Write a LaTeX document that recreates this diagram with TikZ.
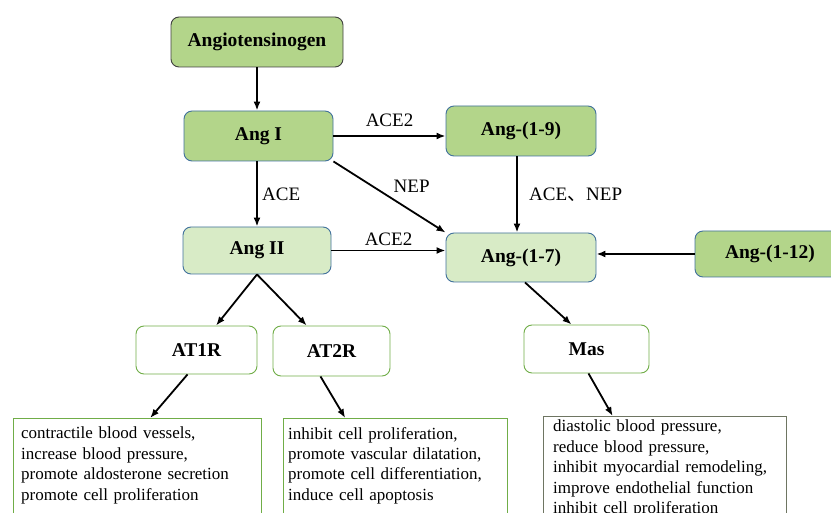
\documentclass[tikz,border=0pt]{standalone}
\usepackage{fontspec}
\setmainfont{Liberation Serif}
\newfontfamily\cjk{Noto Sans CJK SC}
\usetikzlibrary{arrows.meta}
\definecolor{darkleaf}{HTML}{B3D58A}
\definecolor{paleleaf}{HTML}{D8EBC6}
\definecolor{edgeblue}{HTML}{41719C}
\definecolor{edgegreen}{HTML}{70AD47}
\definecolor{edgegray}{HTML}{6E7562}
\tikzset{
  peptide/.style={draw=edgeblue, fill=darkleaf, rounded corners=8pt, line width=0.9pt,
    font=\fontsize{19.5}{23}\selectfont\bfseries, minimum width=150pt, minimum height=50pt},
  receptor/.style={draw=edgegreen, fill=white, rounded corners=8pt, line width=0.9pt,
    font=\fontsize{19.5}{23}\selectfont\bfseries, minimum height=48pt},
  efftext/.style={anchor=north west, align=left, inner ysep=9pt,
    font=\fontsize{17}{20.4}\selectfont},
  effframe/.style={draw=edgegreen, line width=0.9pt},
  arr/.style={-{Latex[length=9pt,width=7pt]}, line width=1.8pt},
  enzyme/.style={font=\fontsize{19}{22}\selectfont}
}
\begin{document}
\begin{tikzpicture}[x=1pt,y=-1pt]
\useasboundingbox (0,0) rectangle (831,513);
\clip (0,0) rectangle (831,513);

% precursor and peptides
\node[peptide, draw=black!75, minimum width=172pt] (angio) at (257,42) {Angiotensinogen};
\node[peptide, minimum width=149pt] (angI) at (258.5,136) {Ang I};
\node[peptide] (ang19) at (521,131) {Ang-(1-9)};
\node[peptide, minimum height=46pt] (ang112) at (770,254) {Ang-(1-12)};
\node[peptide, fill=paleleaf, minimum width=148pt, minimum height=47pt] (angII) at (257,250.5) {Ang II};
\node[peptide, fill=paleleaf, minimum height=49pt] (ang17) at (521,257.5) {Ang-(1-7)};

% receptors
\node[receptor, minimum width=121pt] (at1r) at (196.5,350) {AT1R};
\node[receptor, minimum width=117pt, minimum height=50pt] (at2r) at (331.5,351) {AT2R};
\node[receptor, minimum width=125pt] (mas) at (586.5,349) {Mas};

% effects
\node[efftext, inner xsep=8pt, text width=232pt] (eff1) at (13,418)
  {contractile blood vessels,\\ increase blood pressure,\\ promote aldosterone secretion\\ promote cell proliferation};
\draw[effframe] (eff1.north west) rectangle ([yshift=-120pt]eff1.north east);
\node[efftext, inner xsep=5pt, text width=214pt] (eff2) at (283,418)
  {inhibit cell proliferation,\\ promote vascular dilatation,\\ promote cell differentiation,\\ induce cell apoptosis};
\draw[effframe] (eff2.north west) rectangle ([yshift=-120pt]eff2.north east);
\node[efftext, inner xsep=10pt, inner ysep=4pt, text width=223pt] (eff3) at (543,416)
  {diastolic blood pressure,\\ reduce blood pressure,\\ inhibit myocardial remodeling,\\ improve endothelial function\\ inhibit cell proliferation};
\draw[effframe, draw=edgegray] (eff3.north west) rectangle ([yshift=-120pt]eff3.north east);

% conversions
\draw[arr] (angio.south) -- (angio.south |- angI.north);
\draw[arr] (angI.east) -- (angI.east -| ang19.west) node[enzyme, midway, above=5pt] {ACE2};
\draw[arr] (angI.south -| angII.north) -- (angII.north) node[enzyme, midway, right=1pt] {ACE};
\draw[arr] (angI.south east) -- (ang17.north west) node[enzyme, pos=0.5, above right=0pt] {NEP};
\draw[arr] ([xshift=-4pt]ang19.south) -- ([xshift=-4pt]ang17.north) node[enzyme, midway, right=8pt] {ACE{\cjk 、}NEP};
\draw[arr] (angII.east) -- (angII.east -| ang17.west) node[enzyme, midway, above=1pt] {ACE2};
\draw[arr] (ang112.west) -- (ang112.west -| ang17.east);

% binding
\draw[arr] (angII.south) -- (at1r);
\draw[arr] (angII.south) -- (at2r);
\draw[arr] ([xshift=4pt]ang17.south) -- ([xshift=-15pt]mas.north);

% effects
\draw[arr] ([xshift=-9pt]at1r.south) -- ([xshift=13pt]eff1.north);
\draw[arr] ([xshift=-11pt]at2r.south) -- ([xshift=-50pt]eff2.north);
\draw[arr] ([xshift=2pt]mas.south) -- ([xshift=-52pt]eff3.north);
\end{tikzpicture}
\end{document}
